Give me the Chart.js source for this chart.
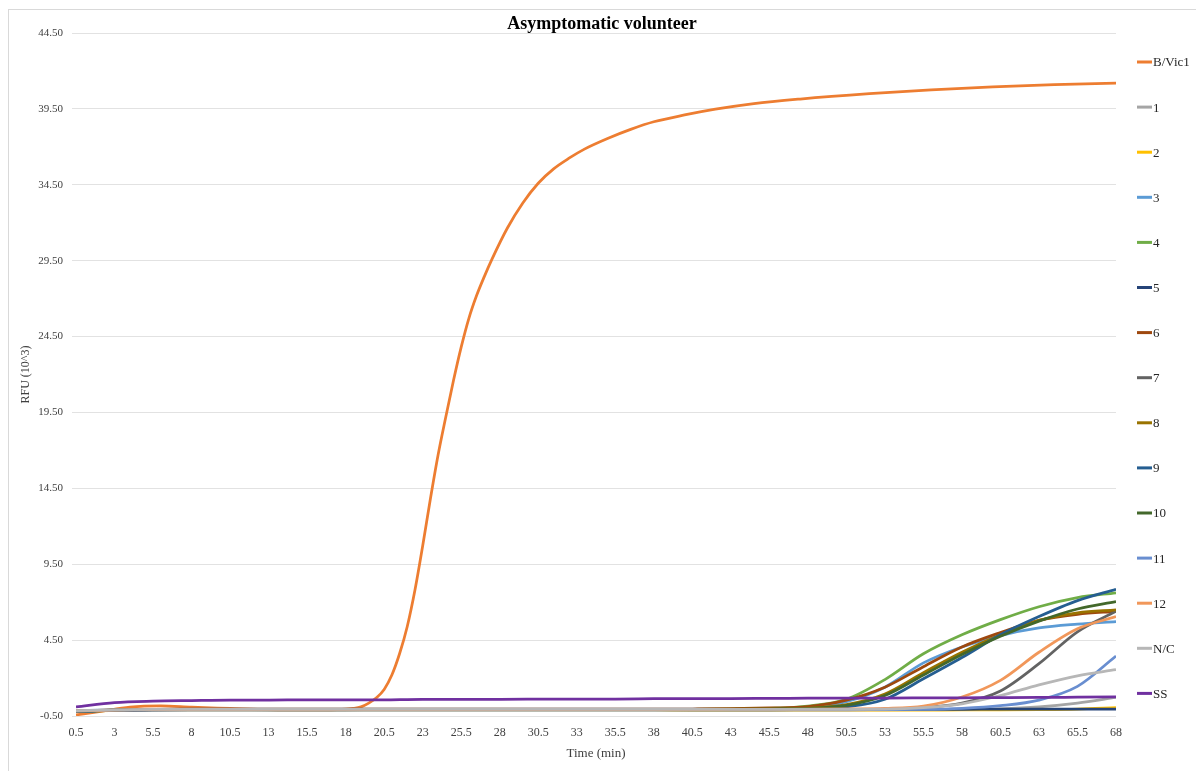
<!DOCTYPE html>
<html>
<head>
<meta charset="utf-8">
<title>Asymptomatic volunteer</title>
<script src="https://cdn.jsdelivr.net/npm/chart.js@4.4.1/dist/chart.umd.min.js"></script>
<style>
  html, body { margin: 0; padding: 0; background: #fff; }
  #wrap { position: relative; width: 1196px; height: 771px; }
  #frame { position: absolute; left: 8px; top: 9px; width: 1300px; height: 1000px;
           border: 1px solid #d9d9d9; pointer-events: none; }
</style>
</head>
<body>
<div id="wrap">
  <div id="frame"></div>
  <canvas id="chart"></canvas>
</div>
<script>
// sample times (min) - also used as x tick labels
const times = [0.5, 3, 5.5, 8, 10.5, 13, 15.5, 18, 20.5, 23, 25.5, 28, 30.5, 33, 35.5, 38, 40.5, 43, 45.5, 48, 50.5, 53, 55.5, 58, 60.5, 63, 65.5, 68]
const rfuTicks = [-0.5, 4.5, 9.5, 14.5, 19.5, 24.5, 29.5, 34.5, 39.5, 44.5]

// positive control read at its own times (steep part needs more points)
const vicTimes = [0.5, 2, 4, 6, 8, 10.5, 13, 15.5, 17.5, 18.5, 19, 19.5, 20, 20.5, 21, 21.5, 22, 22.5, 23, 23.5,
  24, 24.5, 25, 25.5, 26, 26.5, 27, 27.5, 28.5, 29.5, 30.5, 31.5, 32.5, 33.5, 35, 36.5, 38, 40, 42, 44.5,
  47.5, 52, 56, 60, 64, 68]
const vicValues = [-0.43, -0.22, 0.08, 0.16, 0.08, 0.0, -0.08, -0.1, -0.08, 0.0, 0.1, 0.35, 0.7, 1.25, 2.2, 3.6, 5.4, 7.8, 10.7, 13.8,
  16.7, 19.2, 21.6, 23.8, 25.7, 27.2, 28.45, 29.6, 31.65, 33.3, 34.6, 35.55, 36.25, 36.85, 37.55, 38.15, 38.65, 39.1, 39.48, 39.85,
  40.15, 40.5, 40.75, 40.95, 41.1, 41.2]

const s1 = [-0.18, -0.12, -0.09, -0.08, -0.08, -0.09, -0.09, -0.09, -0.08, -0.08, -0.08, -0.08, -0.08, -0.08, -0.08, -0.08, -0.09, -0.09, -0.09, -0.09, -0.09, -0.09, -0.08, -0.07, -0.03, 0.1, 0.35, 0.72]
const s2 = [-0.22, -0.13, -0.1, -0.1, -0.1, -0.1, -0.1, -0.1, -0.1, -0.1, -0.1, -0.1, -0.1, -0.1, -0.1, -0.1, -0.11, -0.11, -0.11, -0.11, -0.11, -0.11, -0.11, -0.1, -0.1, -0.08, -0.04, 0.05]
const s3 = [-0.15, -0.1, -0.06, -0.05, -0.05, -0.05, -0.05, -0.05, -0.05, -0.05, -0.05, -0.05, -0.05, -0.05, -0.05, -0.05, -0.05, -0.04, -0.02, 0.05, 0.45, 1.4, 3.0, 4.05, 4.8, 5.3, 5.55, 5.72]
const s4 = [-0.2, -0.12, -0.08, -0.07, -0.07, -0.07, -0.07, -0.07, -0.07, -0.07, -0.07, -0.07, -0.07, -0.07, -0.07, -0.07, -0.06, -0.04, 0.0, 0.15, 0.6, 1.9, 3.6, 4.85, 5.85, 6.7, 7.3, 7.62]
const s5 = [-0.2, -0.12, -0.09, -0.08, -0.08, -0.08, -0.08, -0.08, -0.08, -0.08, -0.08, -0.08, -0.08, -0.08, -0.08, -0.08, -0.08, -0.08, -0.07, -0.07, -0.07, -0.06, -0.06, -0.06, -0.05, -0.05, -0.05, -0.04]
const s6 = [-0.16, -0.1, -0.06, -0.05, -0.05, -0.05, -0.05, -0.05, -0.05, -0.05, -0.05, -0.05, -0.05, -0.05, -0.05, -0.05, -0.04, -0.02, 0.03, 0.12, 0.55, 1.4, 2.75, 4.05, 5.0, 5.8, 6.2, 6.4]
const s7 = [-0.2, -0.13, -0.1, -0.09, -0.09, -0.09, -0.09, -0.09, -0.09, -0.09, -0.09, -0.09, -0.09, -0.09, -0.09, -0.09, -0.09, -0.09, -0.09, -0.08, -0.07, -0.05, 0.05, 0.35, 1.15, 2.95, 5.05, 6.4]
const s8 = [-0.18, -0.11, -0.07, -0.06, -0.06, -0.06, -0.06, -0.06, -0.06, -0.06, -0.06, -0.06, -0.06, -0.06, -0.06, -0.06, -0.06, -0.05, -0.03, 0.02, 0.25, 0.95, 2.35, 3.7, 4.85, 5.8, 6.3, 6.5]
const s9 = [-0.2, -0.12, -0.08, -0.08, -0.08, -0.08, -0.08, -0.08, -0.08, -0.08, -0.08, -0.08, -0.08, -0.08, -0.08, -0.08, -0.08, -0.07, -0.06, -0.04, 0.1, 0.6, 1.95, 3.35, 4.85, 6.05, 7.1, 7.85]
const s10 = [-0.19, -0.11, -0.07, -0.07, -0.07, -0.07, -0.07, -0.07, -0.07, -0.07, -0.07, -0.07, -0.07, -0.07, -0.07, -0.07, -0.07, -0.06, -0.04, 0.0, 0.2, 0.85, 2.2, 3.55, 4.75, 5.75, 6.55, 7.03]
const s11 = [-0.18, -0.12, -0.09, -0.09, -0.09, -0.09, -0.09, -0.09, -0.09, -0.09, -0.09, -0.09, -0.09, -0.09, -0.09, -0.09, -0.09, -0.09, -0.09, -0.09, -0.09, -0.08, -0.07, 0.0, 0.18, 0.55, 1.45, 3.45]
const s12 = [-0.17, -0.11, -0.08, -0.08, -0.08, -0.08, -0.08, -0.08, -0.08, -0.08, -0.08, -0.08, -0.08, -0.08, -0.08, -0.08, -0.08, -0.07, -0.06, -0.05, -0.03, 0.0, 0.15, 0.75, 1.85, 3.7, 5.25, 6.05]
const nc = [-0.14, -0.1, -0.07, -0.07, -0.07, -0.07, -0.07, -0.07, -0.07, -0.07, -0.07, -0.07, -0.07, -0.07, -0.07, -0.07, -0.07, -0.07, -0.07, -0.07, -0.06, -0.05, 0.05, 0.3, 0.85, 1.55, 2.15, 2.55]
const ss = [0.1, 0.38, 0.48, 0.52, 0.55, 0.55, 0.56, 0.56, 0.57, 0.6, 0.6, 0.6, 0.61, 0.62, 0.62, 0.64, 0.65, 0.65, 0.66, 0.67, 0.68, 0.68, 0.69, 0.7, 0.71, 0.72, 0.74, 0.76]

const seriesNames = ['B/Vic1', '1', '2', '3', '4', '5', '6', '7', '8', '9', '10', '11', '12', 'N/C', 'SS']
const seriesColors = ['#ED7D31', '#A5A5A5', '#FFC000', '#5B9BD5', '#70AD47', '#264478', '#9E480E', '#636363',
  '#997300', '#255E91', '#43682B', '#698ED0', '#F1975A', '#B7B7B7', '#7030A0']
const seriesValues = [vicValues, s1, s2, s3, s4, s5, s6, s7, s8, s9, s10, s11, s12, nc, ss]

const FONT = '"Liberation Serif", "Times New Roman", serif'
Chart.defaults.font.family = FONT
Chart.defaults.color = '#404040'

const toPoints = (xs, ys) => ys.map((y, i) => ({ x: xs[i], y }))

const datasets = seriesNames.map((name, i) => ({
  label: name,
  data: toPoints(i === 0 ? vicTimes : times, seriesValues[i]),
  borderColor: seriesColors[i],
  backgroundColor: seriesColors[i],
  borderWidth: 2.75,
  pointRadius: 0,
  cubicInterpolationMode: 'monotone',
  order: -i  // later series on top, like the source sheet
}))

// legend drawn in the right margin, one row per series
const sideLegend = {
  id: 'sideLegend',
  afterDraw(chart) {
    const { ctx, chartArea } = chart
    const x = chartArea.right + 21
    ctx.save()
    ctx.font = '13px ' + FONT
    ctx.textBaseline = 'middle'
    ctx.textAlign = 'left'
    chart.data.datasets.forEach((ds, i) => {
      const y = chartArea.top + 29 + i * 45.1
      ctx.strokeStyle = ds.borderColor
      ctx.lineWidth = 3
      ctx.beginPath()
      ctx.moveTo(x, y)
      ctx.lineTo(x + 15, y)
      ctx.stroke()
      ctx.fillStyle = '#262626'
      ctx.fillText(ds.label, x + 16, y + 1)
    })
    ctx.restore()
  }
}

new Chart(document.getElementById('chart'), {
  type: 'line',
  data: { datasets },
  options: {
    responsive: true,
    maintainAspectRatio: false,
    animation: false,
    layout: { padding: { top: 8, left: 8, right: 0, bottom: 0 } },
    plugins: {
      legend: { display: false },
      tooltip: { enabled: false },
      title: {
        display: true,
        text: 'Asymptomatic volunteer',
        color: '#000',
        font: { size: 18, weight: 'bold', lineHeight: 1 },
        padding: { top: 7, bottom: 0 }
      }
    },
    scales: {
      x: {
        type: 'linear',
        min: 0.5,
        max: 68,
        afterBuildTicks: (scale) => { scale.ticks = times.map(v => ({ value: v })) },
        afterFit: (scale) => { scale.height = 55 },
        grid: { display: false },
        border: { display: false },
        ticks: {
          autoSkip: false,
          maxRotation: 0,
          padding: 2,
          font: { size: 12 },
          callback: (v) => String(v)
        },
        title: {
          display: true,
          text: 'Time (min)',
          font: { size: 13 },
          padding: { top: 4, bottom: 10 }
        }
      },
      y: {
        min: -0.5,
        max: 44.5,
        afterBuildTicks: (scale) => { scale.ticks = rfuTicks.map(v => ({ value: v })) },
        afterFit: (scale) => { scale.width = 68 },
        grid: { color: '#e2e2e2', lineWidth: 1, drawTicks: true, tickLength: 4 },
        border: { display: false },
        ticks: {
          padding: 9,
          font: { size: 11 },
          callback: (v) => v.toFixed(2)
        },
        title: {
          display: true,
          text: 'RFU (10^3)',
          font: { size: 12 },
          padding: { top: 11, bottom: 0 }
        }
      },
      // empty axis that only reserves room for the legend on the right
      legendSpace: {
        type: 'linear',
        position: 'right',
        grid: { display: false },
        border: { display: false },
        ticks: { display: false },
        afterFit: (scale) => { scale.width = 80 }
      }
    }
  },
  plugins: [sideLegend]
})
</script>
</body>
</html>
